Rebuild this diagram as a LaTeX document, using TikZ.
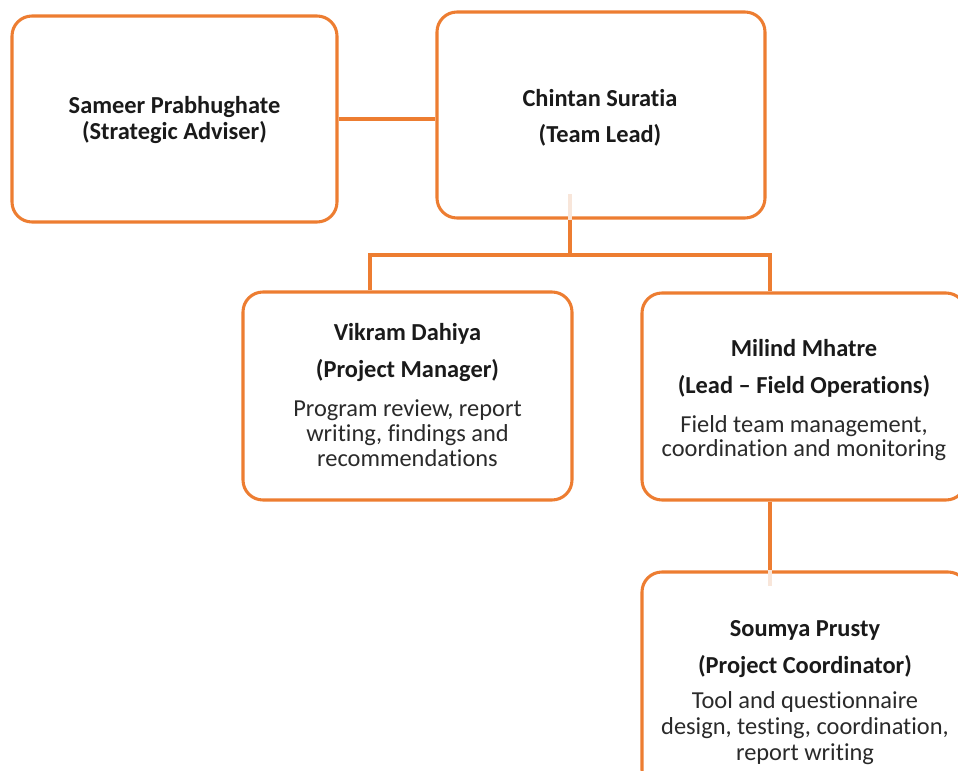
\documentclass[tikz,border=0pt]{standalone}
\usepackage{fontspec}
\setmainfont{Carlito}[Ligatures=CommonOff]
\definecolor{org}{HTML}{ED7D31}
\definecolor{pale}{HTML}{F8E6DA}
\definecolor{txt}{HTML}{1A1A1A}
\definecolor{bodytxt}{HTML}{2A2A2A}
\tikzset{
  orgbox/.style={draw=org, line width=2.3pt, rounded corners=15pt, rectangle, inner sep=0pt, fill=white},
  link/.style={draw=org, line width=2.3pt},
  faint/.style={draw=pale, line width=2.3pt},
  ttl/.style={anchor=base, inner sep=0pt, text=txt, font=\fontsize{18.3}{21}\selectfont\bfseries},
  bdy/.style={anchor=base, inner sep=0pt, text=bodytxt, font=\fontsize{18.3}{21}\selectfont}
}
\begin{document}
\begin{tikzpicture}[x=0.75pt, y=-0.75pt]
\useasboundingbox (0,0) rectangle (958,771);
\clip (0,0) rectangle (958,771);
\fill[white] (0,0) rectangle (958,771);
% boxes
\node[orgbox, minimum width=325*0.75pt, minimum height=206*0.75pt] (sameer) at (174.5,119) {};
\node[orgbox, minimum width=328*0.75pt, minimum height=206*0.75pt] (chintan) at (601,115) {};
\node[orgbox, minimum width=329*0.75pt, minimum height=208*0.75pt] (vikram) at (407.5,396) {};
\node[orgbox, minimum width=324*0.75pt, minimum height=207*0.75pt] (milind) at (804,396.5) {};
\node[orgbox, minimum width=326*0.75pt, minimum height=218*0.75pt] (soumya) at (805,681) {};
% junction coordinates
\coordinate (jc) at (570,255);
\coordinate (jl) at (370,255);
\coordinate (jr) at (770,255);
% faint stubs
\draw[faint] (jc |- chintan.south) -- ++(0,-26);
\draw[faint] (jr |- soumya.north) -- ++(0,16);
% connectors
\draw[link] (sameer.east) -- (chintan.west |- sameer.east);
\draw[link] (jc |- chintan.south) -- (jc);
\draw[link] (jl |- vikram.north) -- (jl) -- (jr) -- (jr |- milind.north);
\draw[link] (jr |- milind.south) -- (jr |- soumya.north);
% texts
\node[ttl] (s1) at (174.5,113) {Sameer Prabhughate};
\node[ttl] (s2) at (174.5,139) {(Strategic Adviser)};
\node[ttl] (c1) at (600,106) {Chintan Suratia};
\node[ttl] (c2) at (600,142) {(Team Lead)};
\node[ttl] (v1) at (407.5,340) {Vikram Dahiya};
\node[ttl] (v2) at (407.5,377) {(Project Manager)};
\node[bdy] (v3) at (407.5,416) {Program review, report};
\node[bdy] (v4) at (407.5,441) {writing, findings and};
\node[bdy] (v5) at (407.5,466) {recommendations};
\node[ttl] (m1) at (804,356) {Milind Mhatre};
\node[ttl] (m2) at (804,393) {(Lead – Field Operations)};
\node[bdy] (m3) at (804,432) {Field team management,};
\node[bdy] (m4) at (804,456) {coordination and monitoring};
\node[ttl] (p1) at (805,636) {Soumya Prusty};
\node[ttl] (p2) at (805,673) {(Project Coordinator)};
\node[bdy] (p3) at (805,708) {Tool and questionnaire};
\node[bdy] (p4) at (805,734) {design, testing, coordination,};
\node[bdy] (p5) at (805,760) {report writing};
\end{tikzpicture}
\end{document}
